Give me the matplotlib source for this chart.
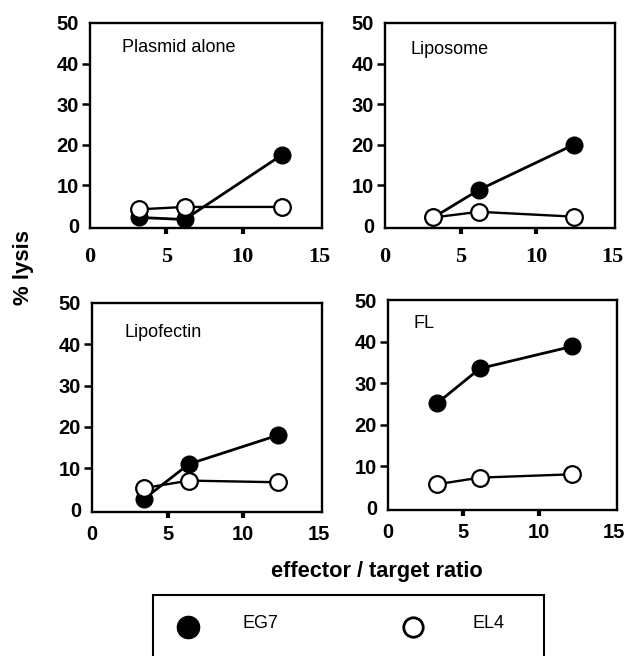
import matplotlib
matplotlib.use("Agg")
import matplotlib.pyplot as plt
from matplotlib.lines import Line2D
from matplotlib.patches import Rectangle

plt.rcParams['font.family'] = ['Liberation Sans', 'DejaVu Sans']

# Effector / target ratios and % lysis per treatment
panel_titles = ["Plasmid alone", "Liposome", "Lipofectin", "FL"]
ratios = [
    [3.2, 6.2, 12.6],
    [3.2, 6.2, 12.5],
    [3.45, 6.4, 12.3],
    [3.25, 6.1, 12.2],
]
eg7_lysis = [
    [2.0, 1.5, 17.5],
    [2.0, 8.8, 20.0],
    [2.6, 11.0, 18.0],
    [25.1, 33.5, 38.8],
]
el4_lysis = [
    [4.0, 4.6, 4.6],
    [2.0, 3.4, 2.2],
    [5.2, 7.0, 6.6],
    [5.6, 7.2, 8.0],
]
x_ticks = [0, 5, 10, 15]
y_ticks = [0, 10, 20, 30, 40, 50]

fig = plt.figure(figsize=(6.28, 6.56), dpi=100)

W, H = 628.0, 656.0
boxes = [  # left, top, right, bottom in pixels
    (90, 23, 322, 228),
    (385, 23, 615, 228),
    (92, 303, 322, 512),
    (388, 300, 617, 510),
]
title_pos = [(0.14, 0.88), (0.11, 0.87), (0.143, 0.86), (0.11, 0.89)]
x_pad = [9, 9, 4.5, 4.5]

for i, (l, t, r, b) in enumerate(boxes):
    ax = fig.add_axes([l / W, 1 - b / H, (r - l) / W, (b - t) / H])
    ax.plot(ratios[i], eg7_lysis[i], color='black', lw=2.0, marker='o',
            ms=12, mfc='black', mec='black', zorder=3)
    ax.plot(ratios[i], el4_lysis[i], color='black', lw=1.7, marker='o',
            ms=12, mfc='white', mec='black', mew=1.6, zorder=4)
    ax.set_xlim(0, 15.2)
    ax.set_ylim(-0.6, 50)
    # interior ticks get visible marks; the end values are labels only
    ax.set_xticks(x_ticks[1:-1])
    ax.set_xticks([x_ticks[0], x_ticks[-1]], minor=True)
    ax.set_yticks(y_ticks[1:-1])
    ax.set_yticks([y_ticks[0], y_ticks[-1]], minor=True)
    ax.set_xticklabels([str(v) for v in x_ticks[1:-1]])
    ax.set_xticklabels([str(x_ticks[0]), str(x_ticks[-1])], minor=True)
    ax.set_yticklabels([str(v) for v in y_ticks[1:-1]])
    ax.set_yticklabels([str(y_ticks[0]), str(y_ticks[-1])], minor=True)
    for s in ax.spines.values():
        s.set_linewidth(1.7)
    ax.tick_params(axis='x', which='major', direction='out', length=4.5,
                   width=3, pad=x_pad[i])
    ax.tick_params(axis='x', which='minor', direction='out', length=0,
                   pad=x_pad[i] + 4.5)
    ax.tick_params(axis='y', which='major', direction='out', length=6,
                   width=1.8, pad=2)
    ax.tick_params(axis='y', which='minor', direction='out', length=0,
                   pad=8)
    xfam = ['Liberation Serif'] if i < 2 else ['Liberation Sans']
    xsize = 16 if i < 2 else 14.5
    for lab in ax.get_xticklabels() + ax.get_xticklabels(minor=True):
        lab.set_fontfamily(xfam)
        lab.set_fontweight('bold')
        lab.set_fontsize(xsize)
    for lab in ax.get_yticklabels() + ax.get_yticklabels(minor=True):
        lab.set_fontweight('bold')
        lab.set_fontsize(14.5)
    ax.text(title_pos[i][0], title_pos[i][1], panel_titles[i],
            transform=ax.transAxes, fontsize=13, va='center', ha='left')

fig.text(23 / W, 1 - 268 / H, "% lysis", rotation=90, fontsize=16,
         fontweight='bold', ha='center', va='center')
fig.text(377 / W, 1 - 572 / H, "effector / target ratio", fontsize=15.7,
         fontweight='bold', ha='center', va='center')

# Legend box (runs off the lower edge of the figure)
fig.patches.append(Rectangle((153 / W, -0.05), (544 - 153) / W,
                             (1 - 595 / H) + 0.05, transform=fig.transFigure,
                             fill=False, lw=1.5, ec='black'))
fig.lines.append(Line2D([188 / W], [1 - 627 / H], marker='o', ms=16,
                        mfc='black', mec='black', transform=fig.transFigure))
fig.lines.append(Line2D([413 / W], [1 - 627 / H], marker='o', ms=14,
                        mfc='white', mec='black', mew=2,
                        transform=fig.transFigure))
fig.text(242 / W, 1 - 623 / H, "EG7", fontsize=13, ha='left', va='center')
fig.text(472 / W, 1 - 623 / H, "EL4", fontsize=13, ha='left', va='center')

fig.savefig("out.png", dpi=100)
